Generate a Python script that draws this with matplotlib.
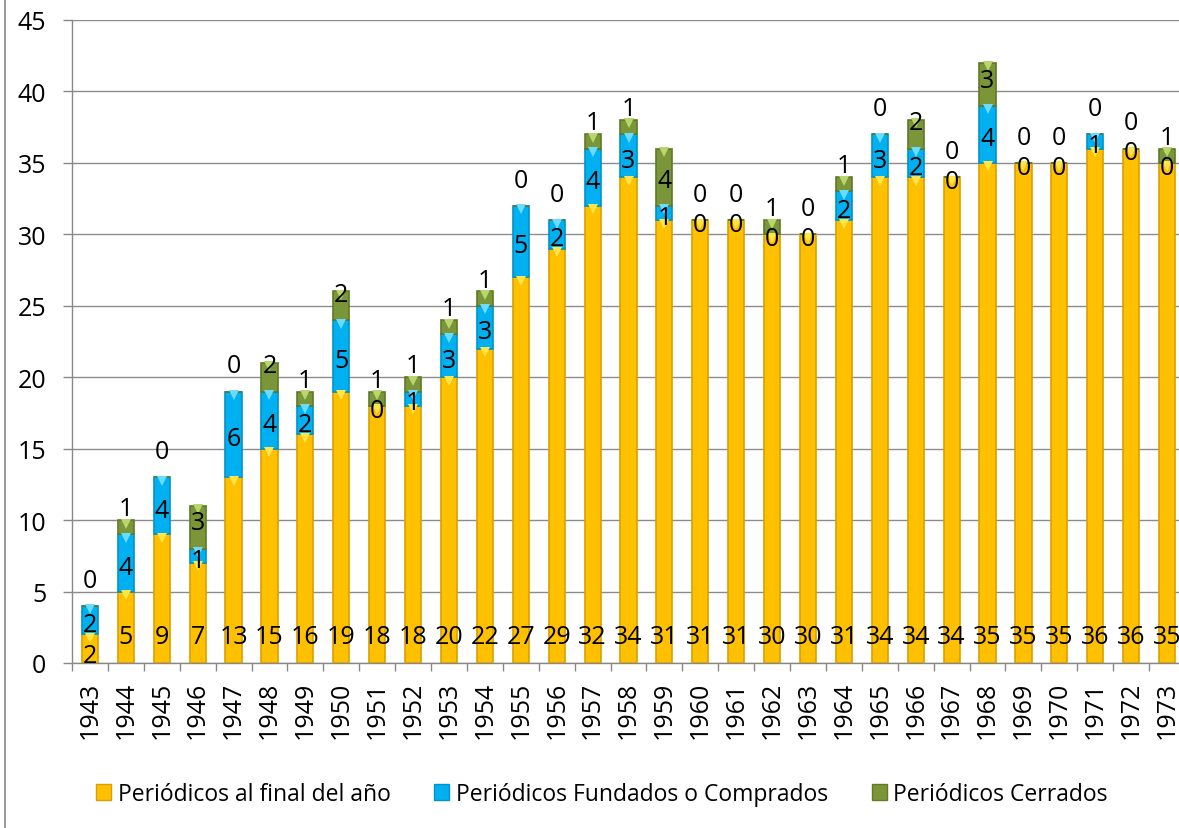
import matplotlib
matplotlib.use("Agg")
import matplotlib.pyplot as plt
from matplotlib.patches import Patch
from matplotlib.lines import Line2D
from matplotlib.transforms import ScaledTranslation

plt.rcParams['font.family'] = ['Open Sans', 'DejaVu Sans']

# data
years = [str(y) for y in range(1943, 1974)]
final_ano = [2, 5, 9, 7, 13, 15, 16, 19, 18, 18, 20, 22, 27, 29, 32, 34, 31,
             31, 31, 30, 30, 31, 34, 34, 34, 35, 35, 35, 36, 36, 35]
fundados = [2, 4, 4, 1, 6, 4, 2, 5, 0, 1, 3, 3, 5, 2, 4, 3, 1,
            0, 0, 0, 0, 2, 3, 2, 0, 4, 0, 0, 1, 0, 0]
cerrados = [0, 1, 0, 3, 0, 2, 1, 2, 1, 1, 1, 1, 0, 0, 1, 1, 4,
            0, 0, 1, 0, 1, 0, 2, 0, 3, 0, 0, 0, 0, 1]
series_names = ["Periódicos al final del año",
                "Periódicos Fundados o Comprados",
                "Periódicos Cerrados"]

# fill, edge, top-triangle colours
colors = [("#FFC000", "#D9A000", "#FFE44A"),
          ("#00B0F0", "#0092C8", "#6ADCFF"),
          ("#7A9638", "#5F7A28", "#B9D56E")]

W, H = 1179, 829
fig = plt.figure(figsize=(W / 100, H / 100), dpi=100)
ax = fig.add_axes([72 / W, 1 - 664 / H, (1185 - 72) / W, (664 - 21) / H])

x = list(range(len(years)))
bw = 0.45
fs = 18

bottoms = [0] * len(years)
tri_off = ScaledTranslation(0, -2.5 / 72, fig.dpi_scale_trans)
for vals, (fc, ec, tc) in zip([final_ano, fundados, cerrados], colors):
    ax.bar(x, vals, bw, bottom=bottoms, color=fc, edgecolor=ec, linewidth=1.2, zorder=3)
    tops = [b + v for b, v in zip(bottoms, vals)]
    tx = [xi for xi, v in zip(x, vals) if v > 0]
    ty = [t for t, v in zip(tops, vals) if v > 0]
    ax.plot(tx, ty, linestyle="none", marker="v", markersize=7, color=tc,
            markeredgewidth=0, zorder=4, transform=ax.transData + tri_off)
    bottoms = tops

# data labels, placed like the Excel original
for i in range(len(years)):
    f, b, c = final_ano[i], fundados[i], cerrados[i]
    yf = 0.55 if f < 3 else 1.85
    ax.text(i, yf, str(f), ha="center", va="center", fontsize=fs, zorder=5)
    ax.text(i, f + b / 2 - 0.3, str(b), ha="center", va="center", fontsize=fs, zorder=5)
    ax.text(i, f + b + 1.8, str(c), ha="center", va="center", fontsize=fs, zorder=5)

ax.set_xlim(-0.5, len(years) - 0.5)
ax.set_ylim(0, 45)
ax.set_yticks(range(0, 46, 5))
ax.set_xticks(x)
ax.set_xticklabels(years, rotation=90, fontsize=fs)
ax.set_xticks([i - 0.5 for i in range(len(years) + 1)], minor=True)
ax.tick_params(axis="x", which="major", length=0, pad=13)
ax.tick_params(axis="x", which="minor", length=5.5, width=1.0, color="#888888")
ax.tick_params(axis="y", labelsize=fs, length=6.5, width=1.0, color="#888888", pad=12)

ax.grid(axis="y", color="#8C8C8C", linewidth=1.0, zorder=0)
ax.set_axisbelow(True)
for side in ["top", "right"]:
    ax.spines[side].set_visible(False)
for side in ["left", "bottom"]:
    ax.spines[side].set_color("#888888")
    ax.spines[side].set_linewidth(1.0)

handles = [Patch(facecolor=fc, edgecolor=ec, linewidth=1.0) for fc, ec, tc in colors]
fig.legend(handles, series_names, loc="center", bbox_to_anchor=(602 / W, 1 - 795 / H),
           ncol=3, frameon=False, fontsize=16.5, handlelength=0.65, handleheight=0.65,
           handletextpad=0.3, columnspacing=1.9)

# chart border (only left edge visible in the original crop)
fig.add_artist(Line2D([5 / W, 5 / W], [0, 1], color="#888888", linewidth=1.2,
                      transform=fig.transFigure))

fig.savefig("out.png", dpi=100)
